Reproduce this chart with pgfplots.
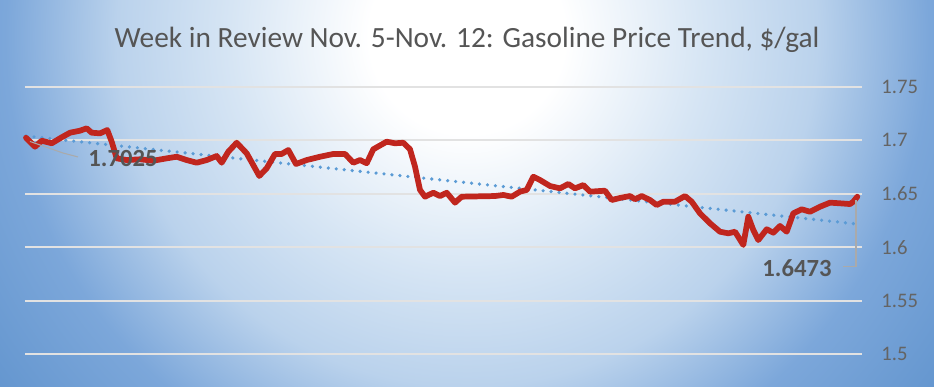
\documentclass[border=0pt]{standalone}
\usepackage{fontspec}
\setmainfont{Carlito}
\usepackage{pgfplots}
\pgfplotsset{compat=1.18}
\definecolor{bgout}{RGB}{100,150,207}
\definecolor{bgmid}{RGB}{186,210,236}
\definecolor{bglight}{RGB}{214,229,244}
\definecolor{bgside}{RGB}{124,167,218}
\definecolor{lred}{RGB}{192,38,30}
\definecolor{trendblue}{RGB}{91,155,213}
\definecolor{gridc}{RGB}{226,226,226}
\definecolor{txtgray}{RGB}{85,85,85}
\definecolor{tickgray}{RGB}{100,100,100}
\definecolor{leadgray}{RGB}{170,170,170}
\pgfdeclareradialshading{bgshade}{\pgfpoint{0bp}{0bp}}{color(0bp)=(white); color(3.5bp)=(white); color(8.5bp)=(bglight); color(12.5bp)=(bgmid); color(16.5bp)=(bgside); color(21bp)=(bgout); color(50bp)=(bgout)}
\begin{document}
\begin{tikzpicture}[x=1pt,y=1pt]
\useasboundingbox (0,0) rectangle (700.5,289.5);
\begin{scope}
\clip (0,0) rectangle (700.5,289.5);
\shade[shading=bgshade] (-174.75,-262.5) rectangle (875.25,787.5);
\end{scope}
\node[font=\fontsize{22}{24}\selectfont, text=txtgray] at (350.25,259.5) {Week in Review Nov. 5-Nov. 12: Gasoline Price Trend, \$/gal};
\begin{axis}[
  at={(18.75pt,24pt)}, anchor=south west,
  scale only axis, width=627.75pt, height=200.25pt,
  xmin=25, xmax=862, ymin=1.5, ymax=1.75,
  axis line style={draw=none},
  xtick=\empty,
  ytick={1.5,1.55,1.6,1.65,1.7,1.75},
  yticklabels={1.5,1.55,1.6,1.65,1.7,1.75},
  yticklabel pos=right,
  major tick length=0pt,
  ymajorgrids,
  grid style={gridc, line width=1.5pt},
  yticklabel style={font=\fontsize{15.5}{15.5}\selectfont, text=tickgray, anchor=west, xshift=11pt},
  /pgf/number format/assume math mode=true,
  clip=false,
]
\addplot[trendblue, line width=2.7pt, line cap=round, dash pattern=on 0pt off 6pt] coordinates {(26,1.7041) (857.3,1.6217)};
\addplot[lred, line width=4.3pt, line join=round, line cap=round] coordinates {
(26,1.7025) (35,1.6941) (41.7,1.6997) (51.7,1.6973) (61.7,1.7029) (70,1.7072) (80,1.7091) (86.7,1.7113) (91.7,1.7072) (100,1.7066) (107.3,1.7097) (111.7,1.6988) (116.7,1.6832) (126.7,1.6816) (140,1.6823) (153.3,1.6810) (166.7,1.6832) (176.7,1.6847) (186.7,1.6816) (196.7,1.6791) (206.7,1.6816) (216.7,1.6854) (221.7,1.6791) (228.3,1.6894) (236.7,1.6978) (246.7,1.6879) (259.3,1.6667) (266.7,1.6739) (275,1.6873) (281.7,1.6873) (288.3,1.6910) (296,1.6779) (306.7,1.6816) (320,1.6847) (333.3,1.6873) (345,1.6873) (353.3,1.6791) (360,1.6816) (366.7,1.6786) (373.3,1.6917) (386.7,1.6988) (395,1.6973) (403.3,1.6978) (410,1.6917) (415,1.6754) (420,1.6536) (425,1.6473) (433.3,1.6510) (440,1.6479) (446.7,1.6510) (455,1.6417) (461.7,1.6473) (495,1.6479) (503.3,1.6489) (511.7,1.6473) (520,1.6520) (526.7,1.6536) (533.3,1.6660) (540,1.6629) (550,1.6573) (560,1.6551) (568.3,1.6592) (575,1.6551) (583.3,1.6582) (590,1.6520) (605,1.6529) (611.7,1.6442) (620,1.6461) (630,1.6479) (635,1.6449) (641.7,1.6479) (650,1.6442) (656.7,1.6395) (663.3,1.6426) (675,1.6426) (685,1.6479) (691.7,1.6426) (700,1.6317) (710,1.6224) (720,1.6145) (728.3,1.6130) (735,1.6145) (743.3,1.6021) (748.3,1.6286) (753.3,1.6161) (758.3,1.6067) (766.7,1.6168) (773.3,1.6136) (780,1.6199) (786.7,1.6145) (793.3,1.6317) (801.7,1.6355) (810,1.6332) (820,1.6379) (830,1.6417) (840,1.6411) (850,1.6404) (853.3,1.6426) (857.3,1.6473)
};
\draw[leadgray, line width=0.8pt] (axis cs:30,1.699) -- (axis cs:63,1.6882) -- (axis cs:78,1.6845);
\draw[leadgray, line width=0.8pt] (axis cs:856,1.6440) -- (axis cs:856,1.5815) -- (axis cs:843,1.5815);
\node[font=\bfseries\fontsize{18.5}{18.5}\selectfont, text=txtgray] at (axis cs:123,1.6835) {1.7025};
\node[font=\bfseries\fontsize{18.5}{18.5}\selectfont, text=txtgray] at (axis cs:797,1.5805) {1.6473};
\end{axis}
\end{tikzpicture}
\end{document}
